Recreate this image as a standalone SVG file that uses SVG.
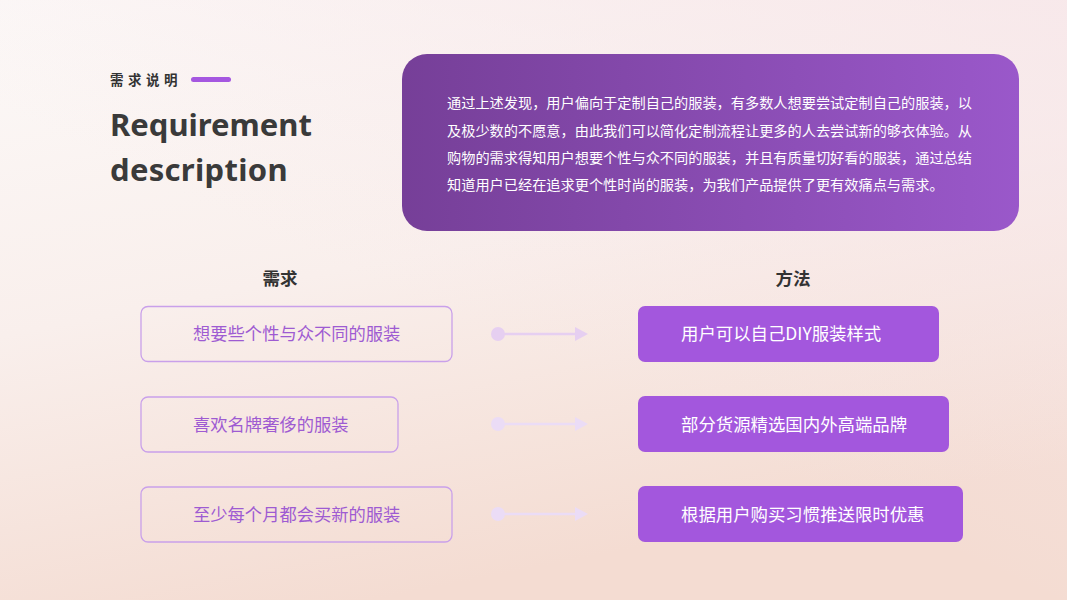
<svg xmlns="http://www.w3.org/2000/svg" width="1067" height="600" viewBox="0 0 1067 600">
<defs>
<linearGradient id="bg" x1="0" y1="0" x2="0.35" y2="1">
<stop offset="0" stop-color="#fcf9f8"/>
<stop offset="0.5" stop-color="#f9efec"/>
<stop offset="1" stop-color="#f4dcd2"/>
</linearGradient>
<linearGradient id="bg2" x1="1" y1="0" x2="0.5" y2="0.6">
<stop offset="0" stop-color="#f7e6e9" stop-opacity="0.8"/>
<stop offset="1" stop-color="#f7e6e9" stop-opacity="0"/>
</linearGradient>
<linearGradient id="card" x1="0" y1="0" x2="1" y2="0">
<stop offset="0" stop-color="#763f98"/>
<stop offset="1" stop-color="#9a58ca"/>
</linearGradient>
<style>
.cn{font-family:"Noto Sans CJK SC","Noto Sans",sans-serif}
.para{font-size:14.2px;fill:#ffffff}
.req{fill:none;stroke:#c9a0ea;stroke-width:1.3}
.reqt{font-size:17.3px;fill:#9e5bd2}
.met{fill:#a357dd}
.mett{font-size:17.4px;fill:#ffffff}
.hd{font-size:17.5px;font-weight:bold;fill:#333333}
.big{font-family:"Noto Sans",sans-serif;font-weight:bold;font-size:31px;fill:#3a3a3a}
</style>
</defs>
<rect width="1067" height="600" fill="url(#bg)"/>
<rect width="1067" height="600" fill="url(#bg2)"/>

<g id="title">
<text x="110" y="85" class="cn" font-size="13.5" letter-spacing="4.5" fill="#333333" font-weight="bold">需求说明</text>
<rect x="191" y="77" width="40" height="5" rx="2.5" fill="#a557e0"/>
<text x="110" y="136" class="big">Requirement</text>
<text x="110" y="181" class="big" letter-spacing="0.3">description</text>
</g>

<g id="summary">
<rect x="402" y="54" width="617" height="177" rx="25" fill="url(#card)"/>
<text class="cn para" x="447" y="108">通过上述发现，用户偏向于定制自己的服装，有多数人想要尝试定制自己的服装，以</text>
<text class="cn para" x="447" y="136">及极少数的不愿意，由此我们可以简化定制流程让更多的人去尝试新的够衣体验。从</text>
<text class="cn para" x="447" y="163">购物的需求得知用户想要个性与众不同的服装，并且有质量切好看的服装，通过总结</text>
<text class="cn para" x="447" y="190">知道用户已经在追求更个性时尚的服装，为我们产品提供了更有效痛点与需求。</text>
</g>

<g id="header-req"><text class="cn hd" x="280" y="285" text-anchor="middle">需求</text></g>
<g id="header-met"><text class="cn hd" x="793" y="285" text-anchor="middle">方法</text></g>

<g id="req1"><rect class="req" x="141" y="306.5" width="311" height="55" rx="7"/><text class="cn reqt" x="193" y="340">想要些个性与众不同的服装</text></g>
<g id="req2"><rect class="req" x="141" y="397" width="257" height="55" rx="7"/><text class="cn reqt" x="193" y="430.5">喜欢名牌奢侈的服装</text></g>
<g id="req3"><rect class="req" x="141" y="487" width="311" height="55" rx="7"/><text class="cn reqt" x="193" y="520.5">至少每个月都会买新的服装</text></g>

<g id="met1"><rect class="met" x="638" y="306" width="301" height="56" rx="7"/><text class="cn mett" x="681" y="340">用户可以自己DIY服装样式</text></g>
<g id="met2"><rect class="met" x="638" y="396" width="311" height="56" rx="7"/><text class="cn mett" x="681" y="430.5">部分货源精选国内外高端品牌</text></g>
<g id="met3"><rect class="met" x="638" y="486" width="325" height="56" rx="7"/><text class="cn mett" x="681" y="520.5">根据用户购买习惯推送限时优惠</text></g>

<g id="connectors">
<g fill="#e6cff1" stroke="#e6cff1">
<circle cx="498" cy="334" r="7" stroke="none"/>
<line x1="498" y1="334" x2="577" y2="334" stroke-width="2.5"/>
<polygon points="575,327 588,334 575,341" stroke="none"/>
</g>
<g fill="#ebdcf6" stroke="#ebdcf6">
<circle cx="498" cy="424" r="7" stroke="none"/>
<line x1="498" y1="424" x2="577" y2="424" stroke-width="2.5"/>
<polygon points="575,417 588,424 575,431" stroke="none"/>
<circle cx="498" cy="514" r="7" stroke="none"/>
<line x1="498" y1="514" x2="577" y2="514" stroke-width="2.5"/>
<polygon points="575,507 588,514 575,521" stroke="none"/>
</g>
</g>
</svg>
